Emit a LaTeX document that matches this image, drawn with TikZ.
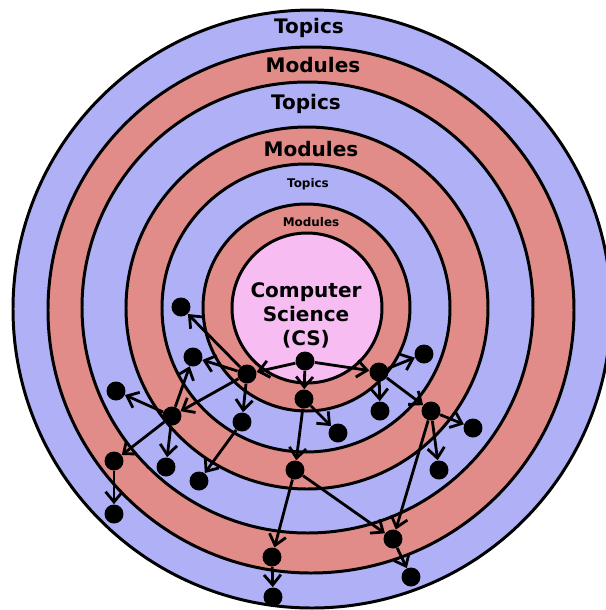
\documentclass[tikz,border=0pt]{standalone}
\usepackage{fontspec}
\setsansfont{DejaVu Sans}
\usetikzlibrary{arrows.meta}
\definecolor{topicblue}{RGB}{176,176,246}
\definecolor{modulered}{RGB}{225,140,136}
\definecolor{cspink}{RGB}{247,189,242}

\begin{document}
\begin{tikzpicture}[x=0.02cm,y=-0.02cm,
  ring/.style={draw=black,line width=1.7pt},
  dot/.style={circle,fill=black,inner sep=0pt,minimum size=0.38cm},
  link/.style={-{Straight Barb[length=5.8pt,width=9.6pt]},line width=1.6pt},
  biglabel/.style={font=\sffamily\bfseries\fontsize{11.4}{13.6}\selectfont,align=center},
  smalllabel/.style={font=\sffamily\bfseries\fontsize{6.8}{8}\selectfont}]
\clip (0,0) rectangle (606,610);
\draw[ring,fill=topicblue] (312,309) circle (299);
\draw[ring,fill=modulered] (311,310) circle (263);
\draw[ring,fill=topicblue] (307.5,307.5) circle (225.5);
\draw[ring,fill=modulered] (307,308) circle (181);
\draw[ring,fill=topicblue] (306,308) circle (144);
\draw[ring,fill=modulered] (306.5,307.5) circle (103.5);
\draw[ring,fill=cspink] (307,308) circle (75);
\node[biglabel] (topicsa) at (309,28) {Topics};
\node[biglabel] (modulesa) at (313,65) {Modules};
\node[biglabel] (topicsb) at (306,104) {Topics};
\node[biglabel] (modulesb) at (311,149) {Modules};
\node[smalllabel] (topicsc) at (308,184) {Topics};
\node[smalllabel] (modulesc) at (311,222) {Modules};
\node[biglabel] (cslabel) at (306,315) {Computer\\Science\\(CS)};
% dots
\node[dot] (cs) at (305,361) {};
\node[dot] (ma) at (247,374) {};
\node[dot] (mb) at (304,399) {};
\node[dot] (mc) at (379,372) {};
\node[dot] (ta) at (181,307) {};
\node[dot] (tb) at (193,357) {};
\node[dot] (tc) at (242,422) {};
\node[dot] (td) at (338,433) {};
\node[dot] (te) at (380,411) {};
\node[dot] (tf) at (424,354) {};
\node[dot] (na) at (172,416) {};
\node[dot] (nb) at (295,470) {};
\node[dot] (nc) at (431,411) {};
\node[dot] (ua) at (116,391) {};
\node[dot] (ub) at (166,467) {};
\node[dot] (uc) at (199,481) {};
\node[dot] (ud) at (439,470) {};
\node[dot] (ue) at (473,428) {};
\node[dot] (pa) at (114,461) {};
\node[dot] (pb) at (272,557) {};
\node[dot] (pc) at (393,539) {};
\node[dot] (va) at (114,514) {};
\node[dot] (vb) at (273,597) {};
\node[dot] (vc) at (411,577) {};
% links
\draw[link] (cs) -- (ma);
\draw[link] (cs) -- (mb);
\draw[link] (cs) -- (mc);
\draw[link] (ma) -- (ta);
\draw[link] (ma) -- (tb);
\draw[link] (ma) -- (tc);
\draw[link] (ma) -- (na);
\draw[link] (mb) -- (td);
\draw[link] (mb) -- (nb);
\draw[link] (mc) -- (tf);
\draw[link] (mc) -- (te);
\draw[link] (mc) -- (nc);
\draw[link] (na) -- (tb);
\draw[link] (na) -- (ua);
\draw[link] (na) -- (ub);
\draw[link] (na) -- (pa);
\draw[link] (tc) -- (uc);
\draw[link] (nc) -- (ue);
\draw[link] (nc) -- (ud);
\draw[link] (nc) -- (pc);
\draw[link] (nb) -- (pb);
\draw[link] (nb) -- (pc);
\draw[link] (pa) -- (va);
\draw[link] (pb) -- (vb);
\draw[link] (pc) -- (vc);
\end{tikzpicture}
\end{document}
